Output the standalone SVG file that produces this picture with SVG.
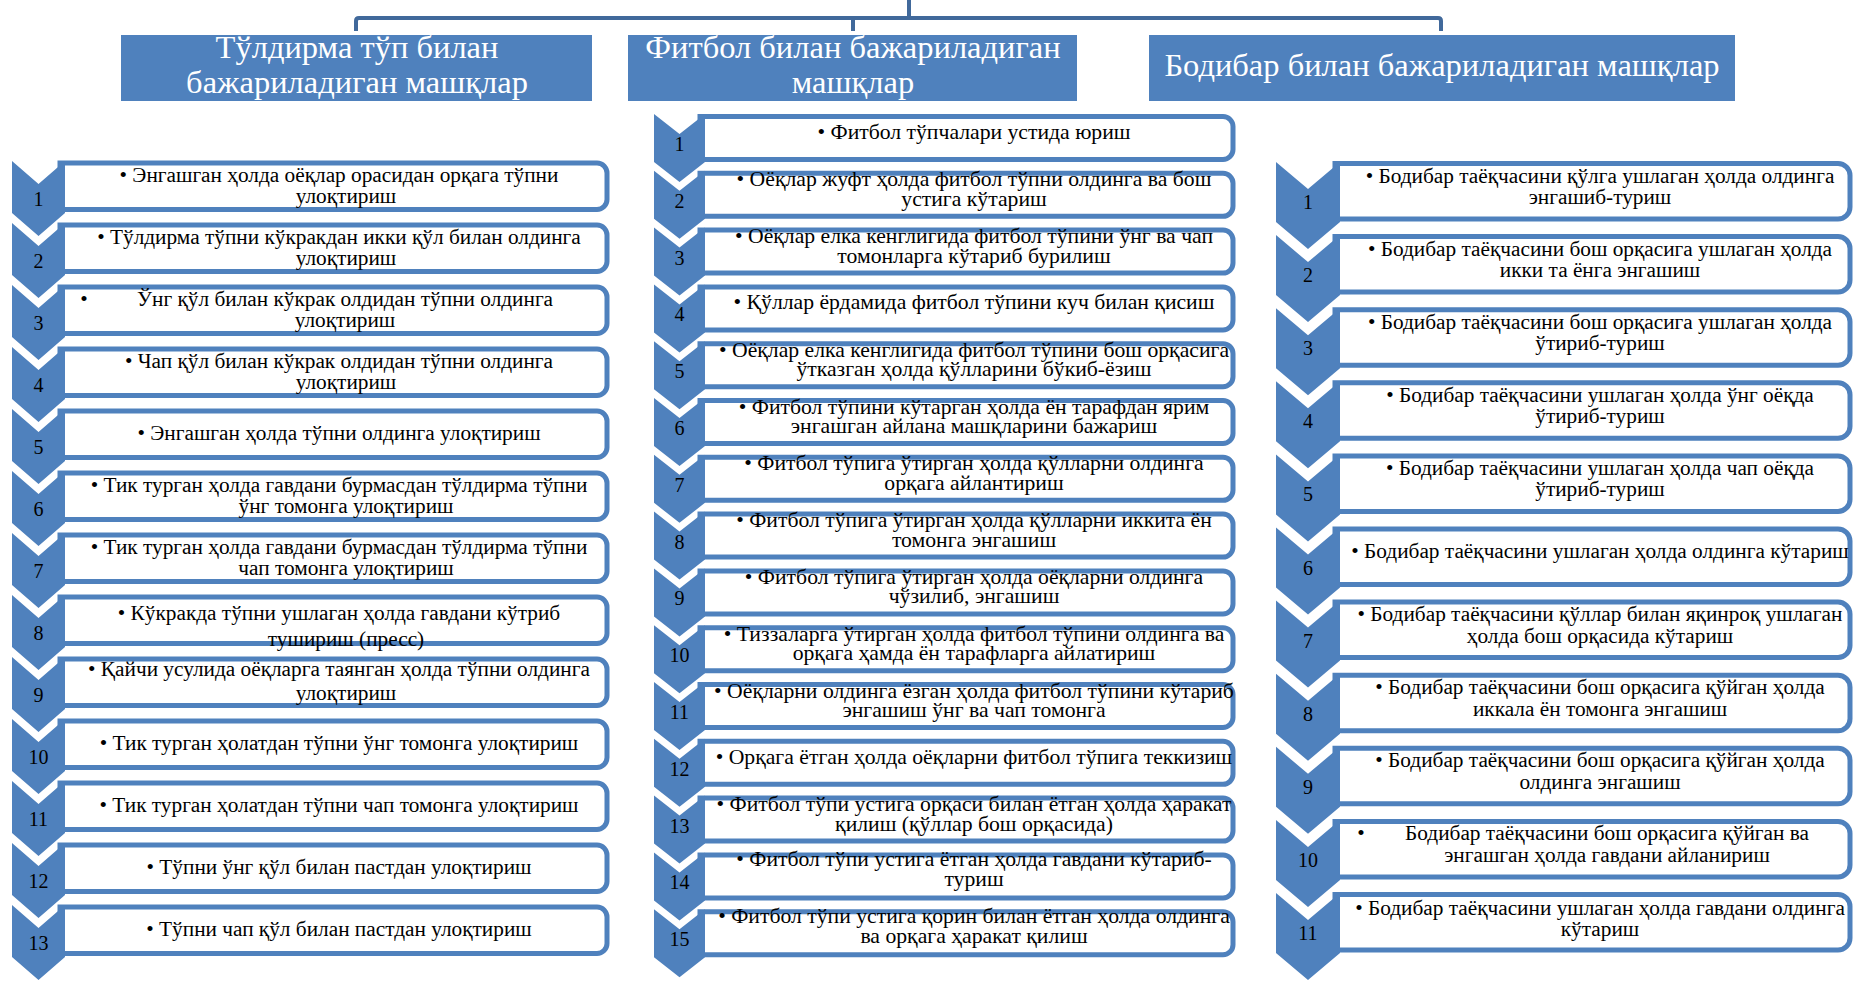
<svg xmlns="http://www.w3.org/2000/svg" width="1854" height="982" viewBox="0 0 1854 982">
<style>
  .chev{fill:#4F81BD}
  .box{fill:#FFFFFF;stroke:#4F81BD;stroke-width:5}
  .hdr{fill:#4F81BD}
  .t{font-family:"Liberation Serif","Times New Roman",serif;font-size:21.3px;fill:#000;text-anchor:middle}
  .tm{font-size:21.7px}
  .n{font-family:"Liberation Serif","Times New Roman",serif;font-size:20px;fill:#000;text-anchor:middle}
  .h{font-family:"Liberation Serif","Times New Roman",serif;font-size:32.5px;fill:#FFFFFF;text-anchor:middle}
  .conn{fill:none;stroke:#41699B;stroke-width:4}
</style>
<defs>
  <!-- chevron markers, one shape per column -->
  <path id="chevL" class="chev" d="M12,0 L38.5,23 L65,0 V52 L38.5,75 L12,52 Z"/>
  <path id="chevM" class="chev" d="M654,0 L679.5,20 L705,0 V48 L679.5,68 L654,48 Z"/>
  <path id="chevR" class="chev" d="M1276,0 L1308,27 L1340,0 V60 L1308,87 L1276,60 Z"/>
  <!-- text panels, square on the left, rounded on the right -->
  <path id="boxL" class="box" d="M60,2 H597 A10,10 0 0 1 607,12 V38.5 A10,10 0 0 1 597,48.5 H60 Z"/>
  <path id="boxM" class="box" d="M700,2.5 H1223 A10,10 0 0 1 1233,12.5 V35.5 A10,10 0 0 1 1223,45.5 H700 Z"/>
  <path id="boxR" class="box" d="M1335,1.5 H1838 A12,12 0 0 1 1850,13.5 V45 A12,12 0 0 1 1838,57 H1335 Z"/>
</defs>

<rect width="1854" height="982" fill="#FFFFFF"/>

<g id="connectors">
  <path class="conn" d="M356,31 V21 Q356,18 359,18 H1438 Q1441,18 1441,21 V31 M853,18 V31 M909,0 V18"/>
</g>

<!-- column headers -->
<g id="hdr-medball">
  <rect class="hdr" x="121" y="35" width="471" height="66"/>
  <text class="h" x="357" y="58">Тўлдирма тўп билан</text>
  <text class="h" x="357" y="93">бажариладиган машқлар</text>
</g>
<g id="hdr-fitball">
  <rect class="hdr" x="628" y="35" width="449" height="66"/>
  <text class="h" x="853" y="58">Фитбол билан бажариладиган</text>
  <text class="h" x="853" y="93">машқлар</text>
</g>
<g id="hdr-bodybar">
  <rect class="hdr" x="1149" y="35" width="586" height="66"/>
  <text class="h" x="1442" y="76">Бодибар билан бажариладиган машқлар</text>
</g>

<!-- left column: medicine ball -->
<g id="l1" transform="translate(0,161)"><use href="#boxL"/><use href="#chevL"/><text class="n" x="38.5" y="45">1</text><text class="t" x="339" y="21">• Энгашган ҳолда оёқлар орасидан орқага тўпни</text><text class="t" x="346" y="42">улоқтириш</text></g>
<g id="l2" transform="translate(0,223)"><use href="#boxL"/><use href="#chevL"/><text class="n" x="38.5" y="45">2</text><text class="t" x="339" y="21">• Тўлдирма тўпни кўкракдан икки қўл билан олдинга</text><text class="t" x="346" y="42">улоқтириш</text></g>
<g id="l3" transform="translate(0,285)"><use href="#boxL"/><use href="#chevL"/><text class="n" x="38.5" y="45">3</text><text class="t" x="84" y="21">•</text><text class="t" x="345" y="21">Ўнг қўл билан кўкрак олдидан тўпни олдинга</text><text class="t" x="345" y="42">улоқтириш</text></g>
<g id="l4" transform="translate(0,347)"><use href="#boxL"/><use href="#chevL"/><text class="n" x="38.5" y="45">4</text><text class="t" x="339" y="21">• Чап қўл билан кўкрак олдидан тўпни олдинга</text><text class="t" x="346" y="42">улоқтириш</text></g>
<g id="l5" transform="translate(0,409)"><use href="#boxL"/><use href="#chevL"/><text class="n" x="38.5" y="45">5</text><text class="t" x="339" y="31">• Энгашган ҳолда тўпни олдинга улоқтириш</text></g>
<g id="l6" transform="translate(0,471)"><use href="#boxL"/><use href="#chevL"/><text class="n" x="38.5" y="45">6</text><text class="t" x="339" y="21">• Тик турган ҳолда гавдани бурмасдан тўлдирма тўпни</text><text class="t" x="346" y="42">ўнг томонга улоқтириш</text></g>
<g id="l7" transform="translate(0,533)"><use href="#boxL"/><use href="#chevL"/><text class="n" x="38.5" y="45">7</text><text class="t" x="339" y="21">• Тик турган ҳолда гавдани бурмасдан тўлдирма тўпни</text><text class="t" x="346" y="42">чап томонга улоқтириш</text></g>
<g id="l8" transform="translate(0,595)"><use href="#boxL"/><use href="#chevL"/><text class="n" x="38.5" y="45">8</text><text class="t" x="339" y="25">• Кўкракда тўпни ушлаган ҳолда гавдани кўтриб</text><text class="t" x="346" y="51">тушириш (пресс)</text></g>
<g id="l9" transform="translate(0,657)"><use href="#boxL"/><use href="#chevL"/><text class="n" x="38.5" y="45">9</text><text class="t" x="339" y="19">• Қайчи усулида оёқларга таянган ҳолда тўпни олдинга</text><text class="t" x="346" y="43">улоқтириш</text></g>
<g id="l10" transform="translate(0,719)"><use href="#boxL"/><use href="#chevL"/><text class="n" x="38.5" y="45">10</text><text class="t" x="339" y="31">• Тик турган ҳолатдан тўпни ўнг томонга улоқтириш</text></g>
<g id="l11" transform="translate(0,781)"><use href="#boxL"/><use href="#chevL"/><text class="n" x="38.5" y="45">11</text><text class="t" x="339" y="31">• Тик турган ҳолатдан тўпни чап томонга улоқтириш</text></g>
<g id="l12" transform="translate(0,843)"><use href="#boxL"/><use href="#chevL"/><text class="n" x="38.5" y="45">12</text><text class="t" x="339" y="31">• Тўпни ўнг қўл билан пастдан улоқтириш</text></g>
<g id="l13" transform="translate(0,905)"><use href="#boxL"/><use href="#chevL"/><text class="n" x="38.5" y="45">13</text><text class="t" x="339" y="31">• Тўпни чап қўл билан пастдан улоқтириш</text></g>

<!-- middle column: fitball -->
<g id="m1" transform="translate(0,114)"><use href="#boxM"/><use href="#chevM"/><text class="n" x="679.5" y="37">1</text><text class="t tm" x="974" y="25">• Фитбол тўпчалари устида юриш</text></g>
<g id="m2" transform="translate(0,170.8)"><use href="#boxM"/><use href="#chevM"/><text class="n" x="679.5" y="37">2</text><text class="t tm" x="974" y="15.5">• Оёқлар жуфт ҳолда фитбол тўпни олдинга ва бош</text><text class="t tm" x="974" y="35">устига кўтариш</text></g>
<g id="m3" transform="translate(0,227.6)"><use href="#boxM"/><use href="#chevM"/><text class="n" x="679.5" y="37">3</text><text class="t tm" x="974" y="15.5">• Оёқлар елка кенглигида фитбол тўпини ўнг ва чап</text><text class="t tm" x="974" y="35">томонларга кўтариб бурилиш</text></g>
<g id="m4" transform="translate(0,284.4)"><use href="#boxM"/><use href="#chevM"/><text class="n" x="679.5" y="37">4</text><text class="t tm" x="974" y="25">• Қўллар ёрдамида фитбол тўпини куч билан қисиш</text></g>
<g id="m5" transform="translate(0,341.2)"><use href="#boxM"/><use href="#chevM"/><text class="n" x="679.5" y="37">5</text><text class="t tm" x="974" y="15.5">• Оёқлар елка кенглигида фитбол тўпини бош орқасига</text><text class="t tm" x="974" y="35">ўтказган ҳолда қўлларини бўкиб-ёзиш</text></g>
<g id="m6" transform="translate(0,398)"><use href="#boxM"/><use href="#chevM"/><text class="n" x="679.5" y="37">6</text><text class="t tm" x="974" y="15.5">• Фитбол тўпини кўтарган ҳолда ён тарафдан ярим</text><text class="t tm" x="974" y="35">энгашган айлана машқларини бажариш</text></g>
<g id="m7" transform="translate(0,454.8)"><use href="#boxM"/><use href="#chevM"/><text class="n" x="679.5" y="37">7</text><text class="t tm" x="974" y="15.5">• Фитбол тўпига ўтирган ҳолда қўлларни олдинга</text><text class="t tm" x="974" y="35">орқага айлантириш</text></g>
<g id="m8" transform="translate(0,511.6)"><use href="#boxM"/><use href="#chevM"/><text class="n" x="679.5" y="37">8</text><text class="t tm" x="974" y="15.5">• Фитбол тўпига ўтирган ҳолда қўлларни иккита ён</text><text class="t tm" x="974" y="35">томонга энгашиш</text></g>
<g id="m9" transform="translate(0,568.4)"><use href="#boxM"/><use href="#chevM"/><text class="n" x="679.5" y="37">9</text><text class="t tm" x="974" y="15.5">• Фитбол тўпига ўтирган ҳолда оёқларни олдинга</text><text class="t tm" x="974" y="35">чўзилиб, энгашиш</text></g>
<g id="m10" transform="translate(0,625.2)"><use href="#boxM"/><use href="#chevM"/><text class="n" x="679.5" y="37">10</text><text class="t tm" x="974" y="15.5">• Тиззаларга ўтирган ҳолда фитбол тўпини олдинга ва</text><text class="t tm" x="974" y="35">орқага ҳамда ён тарафларга айлатириш</text></g>
<g id="m11" transform="translate(0,682)"><use href="#boxM"/><use href="#chevM"/><text class="n" x="679.5" y="37">11</text><text class="t tm" x="974" y="15.5">• Оёқларни олдинга ёзган ҳолда фитбол тўпини кўтариб</text><text class="t tm" x="974" y="35">энгашиш ўнг ва чап томонга</text></g>
<g id="m12" transform="translate(0,738.8)"><use href="#boxM"/><use href="#chevM"/><text class="n" x="679.5" y="37">12</text><text class="t tm" x="974" y="25">• Орқага ётган ҳолда оёқларни фитбол тўпига теккизиш</text></g>
<g id="m13" transform="translate(0,795.6)"><use href="#boxM"/><use href="#chevM"/><text class="n" x="679.5" y="37">13</text><text class="t tm" x="974" y="15.5">• Фитбол тўпи устига орқаси билан ётган ҳолда ҳаракат</text><text class="t tm" x="974" y="35">қилиш (қўллар бош орқасида)</text></g>
<g id="m14" transform="translate(0,852.4)"><use href="#boxM"/><use href="#chevM"/><text class="n" x="679.5" y="37">14</text><text class="t tm" x="974" y="14">• Фитбол тўпи устига ётган ҳолда гавдани кўтариб-</text><text class="t tm" x="974" y="34">туриш</text></g>
<g id="m15" transform="translate(0,909.2)"><use href="#boxM"/><use href="#chevM"/><text class="n" x="679.5" y="37">15</text><text class="t tm" x="974" y="14">• Фитбол тўпи устига қорин билан ётган ҳолда олдинга</text><text class="t tm" x="974" y="34">ва орқага ҳаракат қилиш</text></g>

<!-- right column: body bar -->
<g id="r1" transform="translate(0,162)"><use href="#boxR"/><use href="#chevR"/><text class="n" x="1308" y="47">1</text><text class="t" x="1600" y="20.5">• Бодибар таёқчасини қўлга ушлаган ҳолда олдинга</text><text class="t" x="1600" y="42">энгашиб-туриш</text></g>
<g id="r2" transform="translate(0,235.1)"><use href="#boxR"/><use href="#chevR"/><text class="n" x="1308" y="47">2</text><text class="t" x="1600" y="20.5">• Бодибар таёқчасини бош орқасига ушлаган ҳолда</text><text class="t" x="1600" y="42">икки та ёнга энгашиш</text></g>
<g id="r3" transform="translate(0,308.2)"><use href="#boxR"/><use href="#chevR"/><text class="n" x="1308" y="47">3</text><text class="t" x="1600" y="20.5">• Бодибар таёқчасини бош орқасига ушлаган ҳолда</text><text class="t" x="1600" y="42">ўтириб-туриш</text></g>
<g id="r4" transform="translate(0,381.3)"><use href="#boxR"/><use href="#chevR"/><text class="n" x="1308" y="47">4</text><text class="t" x="1600" y="20.5">• Бодибар таёқчасини ушлаган ҳолда ўнг оёқда</text><text class="t" x="1600" y="42">ўтириб-туриш</text></g>
<g id="r5" transform="translate(0,454.4)"><use href="#boxR"/><use href="#chevR"/><text class="n" x="1308" y="47">5</text><text class="t" x="1600" y="20.5">• Бодибар таёқчасини ушлаган ҳолда чап оёқда</text><text class="t" x="1600" y="42">ўтириб-туриш</text></g>
<g id="r6" transform="translate(0,527.5)"><use href="#boxR"/><use href="#chevR"/><text class="n" x="1308" y="47">6</text><text class="t" x="1600" y="30">• Бодибар таёқчасини ушлаган ҳолда олдинга кўтариш</text></g>
<g id="r7" transform="translate(0,600.6)"><use href="#boxR"/><use href="#chevR"/><text class="n" x="1308" y="47">7</text><text class="t" x="1600" y="20.5">• Бодибар таёқчасини қўллар билан яқинроқ ушлаган</text><text class="t" x="1600" y="42">ҳолда бош орқасида кўтариш</text></g>
<g id="r8" transform="translate(0,673.7)"><use href="#boxR"/><use href="#chevR"/><text class="n" x="1308" y="47">8</text><text class="t" x="1600" y="20.5">• Бодибар таёқчасини бош орқасига қўйган ҳолда</text><text class="t" x="1600" y="42">иккала ён томонга энгашиш</text></g>
<g id="r9" transform="translate(0,746.8)"><use href="#boxR"/><use href="#chevR"/><text class="n" x="1308" y="47">9</text><text class="t" x="1600" y="20.5">• Бодибар таёқчасини бош орқасига қўйган ҳолда</text><text class="t" x="1600" y="42">олдинга энгашиш</text></g>
<g id="r10" transform="translate(0,819.9)"><use href="#boxR"/><use href="#chevR"/><text class="n" x="1308" y="47">10</text><text class="t" x="1361" y="20.5">•</text><text class="t" x="1607" y="20.5">Бодибар таёқчасини бош орқасига қўйган ва</text><text class="t" x="1607" y="42">энгашган ҳолда гавдани айланириш</text></g>
<g id="r11" transform="translate(0,893)"><use href="#boxR"/><use href="#chevR"/><text class="n" x="1308" y="47">11</text><text class="t" x="1600" y="21.5">• Бодибар таёқчасини ушлаган ҳолда гавдани олдинга</text><text class="t" x="1600" y="43">кўтариш</text></g>
</svg>
